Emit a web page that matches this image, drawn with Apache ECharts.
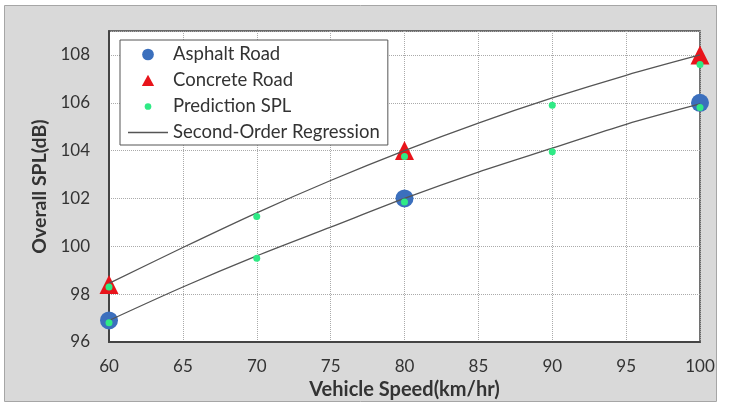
<!DOCTYPE html>
<html>
<head>
<meta charset="utf-8">
<script src="https://cdn.jsdelivr.net/npm/echarts@6/dist/echarts.min.js"></script>
<style>
html,body{margin:0;padding:0;background:#fff;}
#chart{width:730px;height:406px;}
</style>
</head>
<body>
<div id="chart"></div>
<script>
// Measured points
const speedsMeasured = [60, 80, 100];
const asphaltSPL = [96.9, 102.0, 106.0];
const concreteSPL = [98.4, 104.0, 108.0];

// Predicted points
const speedsPred = [60, 70, 80, 90, 100];
const predAsphalt = [96.8, 99.5, 101.85, 103.95, 105.8];
const predConcrete = [98.3, 101.25, 103.75, 105.9, 107.6];

// Regression curves
const speedsCurve = [60, 65, 70, 75, 80, 85, 90, 95, 100];
const curveAsphalt = [96.9, 98.3, 99.6, 100.8, 102.0, 103.1, 104.1, 105.1, 105.95];
const curveConcrete = [98.45, 99.95, 101.4, 102.75, 104.0, 105.15, 106.2, 107.15, 108.0];

const xTicks = [60, 65, 70, 75, 80, 85, 90, 95, 100];
const yTicks = [96, 98, 100, 102, 104, 106, 108];

const zip = (xs, ys) => xs.map((x, i) => [x, ys[i]]);

const FONT = 'Lato';
const svgIcon = inner => 'image://data:image/svg+xml;utf8,' + encodeURIComponent(
  '<svg xmlns="http://www.w3.org/2000/svg" width="14" height="14" viewBox="0 0 14 14">' + inner + '</svg>');
const circleIcon = svgIcon('<circle cx="7" cy="7" r="6.3" fill="#3b6fbd"/>');
const triIcon = svgIcon('<path d="M7,0.8 L13.6,13 L0.4,13 Z" fill="#e8141b"/>');
const dotIcon = svgIcon('<circle cx="7" cy="7" r="3.6" fill="#2fea85"/>');
const lineIcon = 'path://M0,0 L40,0 L40,1.3 L0,1.3 Z';

const chart = echarts.init(document.getElementById('chart'), null, {renderer: 'canvas'});
chart.setOption({
  backgroundColor: '#ffffff',
  animation: false,
  textStyle: {fontFamily: FONT},
  graphic: [{
    type: 'rect', z: -10, silent: true,
    shape: {x: 4.5, y: 5.5, width: 712, height: 396},
    style: {fill: '#d9d9d9', stroke: '#a6a6a6', lineWidth: 1}
  }],
  grid: {
    left: 109, right: 30, top: 31, bottom: 64,
    show: true, backgroundColor: '#ffffff', borderColor: '#444', borderWidth: 1.5
  },
  legend: {
    orient: 'vertical', left: 120, top: 40,
    padding: [5, 8, 3, 8],
    symbolKeepAspect: true,
    backgroundColor: '#ffffff', borderColor: '#555', borderWidth: 1,
    itemWidth: 40, itemHeight: 13, itemGap: 7,
    textStyle: {fontFamily: FONT, fontSize: 18.5, color: '#333', lineHeight: 18},
    data: [
      {name: 'Asphalt Road', icon: circleIcon},
      {name: 'Concrete Road', icon: triIcon},
      {name: 'Prediction SPL', icon: dotIcon},
      {name: 'Second-Order Regression', icon: lineIcon, itemStyle: {color: '#555', opacity: 1}}
    ]
  },
  xAxis: {
    type: 'value', min: 60, max: 100, interval: 5,
    name: 'Vehicle Speed(km/hr)', nameLocation: 'middle', nameGap: 36,
    nameTextStyle: {fontFamily: FONT, fontSize: 20, fontWeight: 'bold', color: '#333'},
    axisLine: {show: true, lineStyle: {color: '#444', width: 2}},
    axisTick: {show: false},
    axisLabel: {fontFamily: FONT, fontSize: 17, color: '#333', margin: 16,
      formatter: v => xTicks.includes(v) ? String(v) : ''},
    splitLine: {show: true, lineStyle: {color: '#aaa', type: 'dotted', width: 1}}
  },
  yAxis: {
    type: 'value', min: 96, max: 109, interval: 2,
    name: 'Overall SPL(dB)', nameLocation: 'middle', nameGap: 57, nameRotate: 90,
    nameTextStyle: {fontFamily: FONT, fontSize: 19.5, fontWeight: 'bold', color: '#333'},
    axisLine: {show: true, lineStyle: {color: '#444', width: 2}},
    axisTick: {show: false},
    axisLabel: {fontFamily: FONT, fontSize: 17, color: '#333', margin: 19, showMaxLabel: false,
      formatter: v => yTicks.includes(v) ? String(v) : ''},
    splitLine: {show: true, lineStyle: {color: '#aaa', type: 'dotted', width: 1}}
  },
  series: [
    {
      name: 'Asphalt Road', type: 'scatter', symbol: 'circle', symbolSize: 18,
      itemStyle: {color: '#3b6fbd', opacity: 1}, clip: false, z: 2,
      data: zip(speedsMeasured, asphaltSPL)
    },
    {
      name: 'Concrete Road', type: 'scatter', symbol: 'triangle', symbolSize: 19,
      itemStyle: {color: '#e8141b', opacity: 1}, clip: false, z: 2,
      data: zip(speedsMeasured, concreteSPL)
    },
    {
      name: 'Second-Order Regression', type: 'line', smooth: 0.3, symbol: 'none',
      lineStyle: {color: '#555', width: 1.3}, itemStyle: {color: '#555'}, z: 3,
      data: zip(speedsCurve, curveAsphalt)
    },
    {
      name: 'Second-Order Regression', type: 'line', smooth: 0.3, symbol: 'none',
      lineStyle: {color: '#555', width: 1.3}, itemStyle: {color: '#555'}, z: 3,
      data: zip(speedsCurve, curveConcrete)
    },
    {
      name: 'Prediction SPL', type: 'scatter', symbol: 'circle', symbolSize: 7,
      itemStyle: {color: '#2fea85', opacity: 1}, clip: false, z: 4,
      data: zip(speedsPred, predAsphalt).concat(zip(speedsPred, predConcrete))
    }
  ]
});
</script>
</body>
</html>
